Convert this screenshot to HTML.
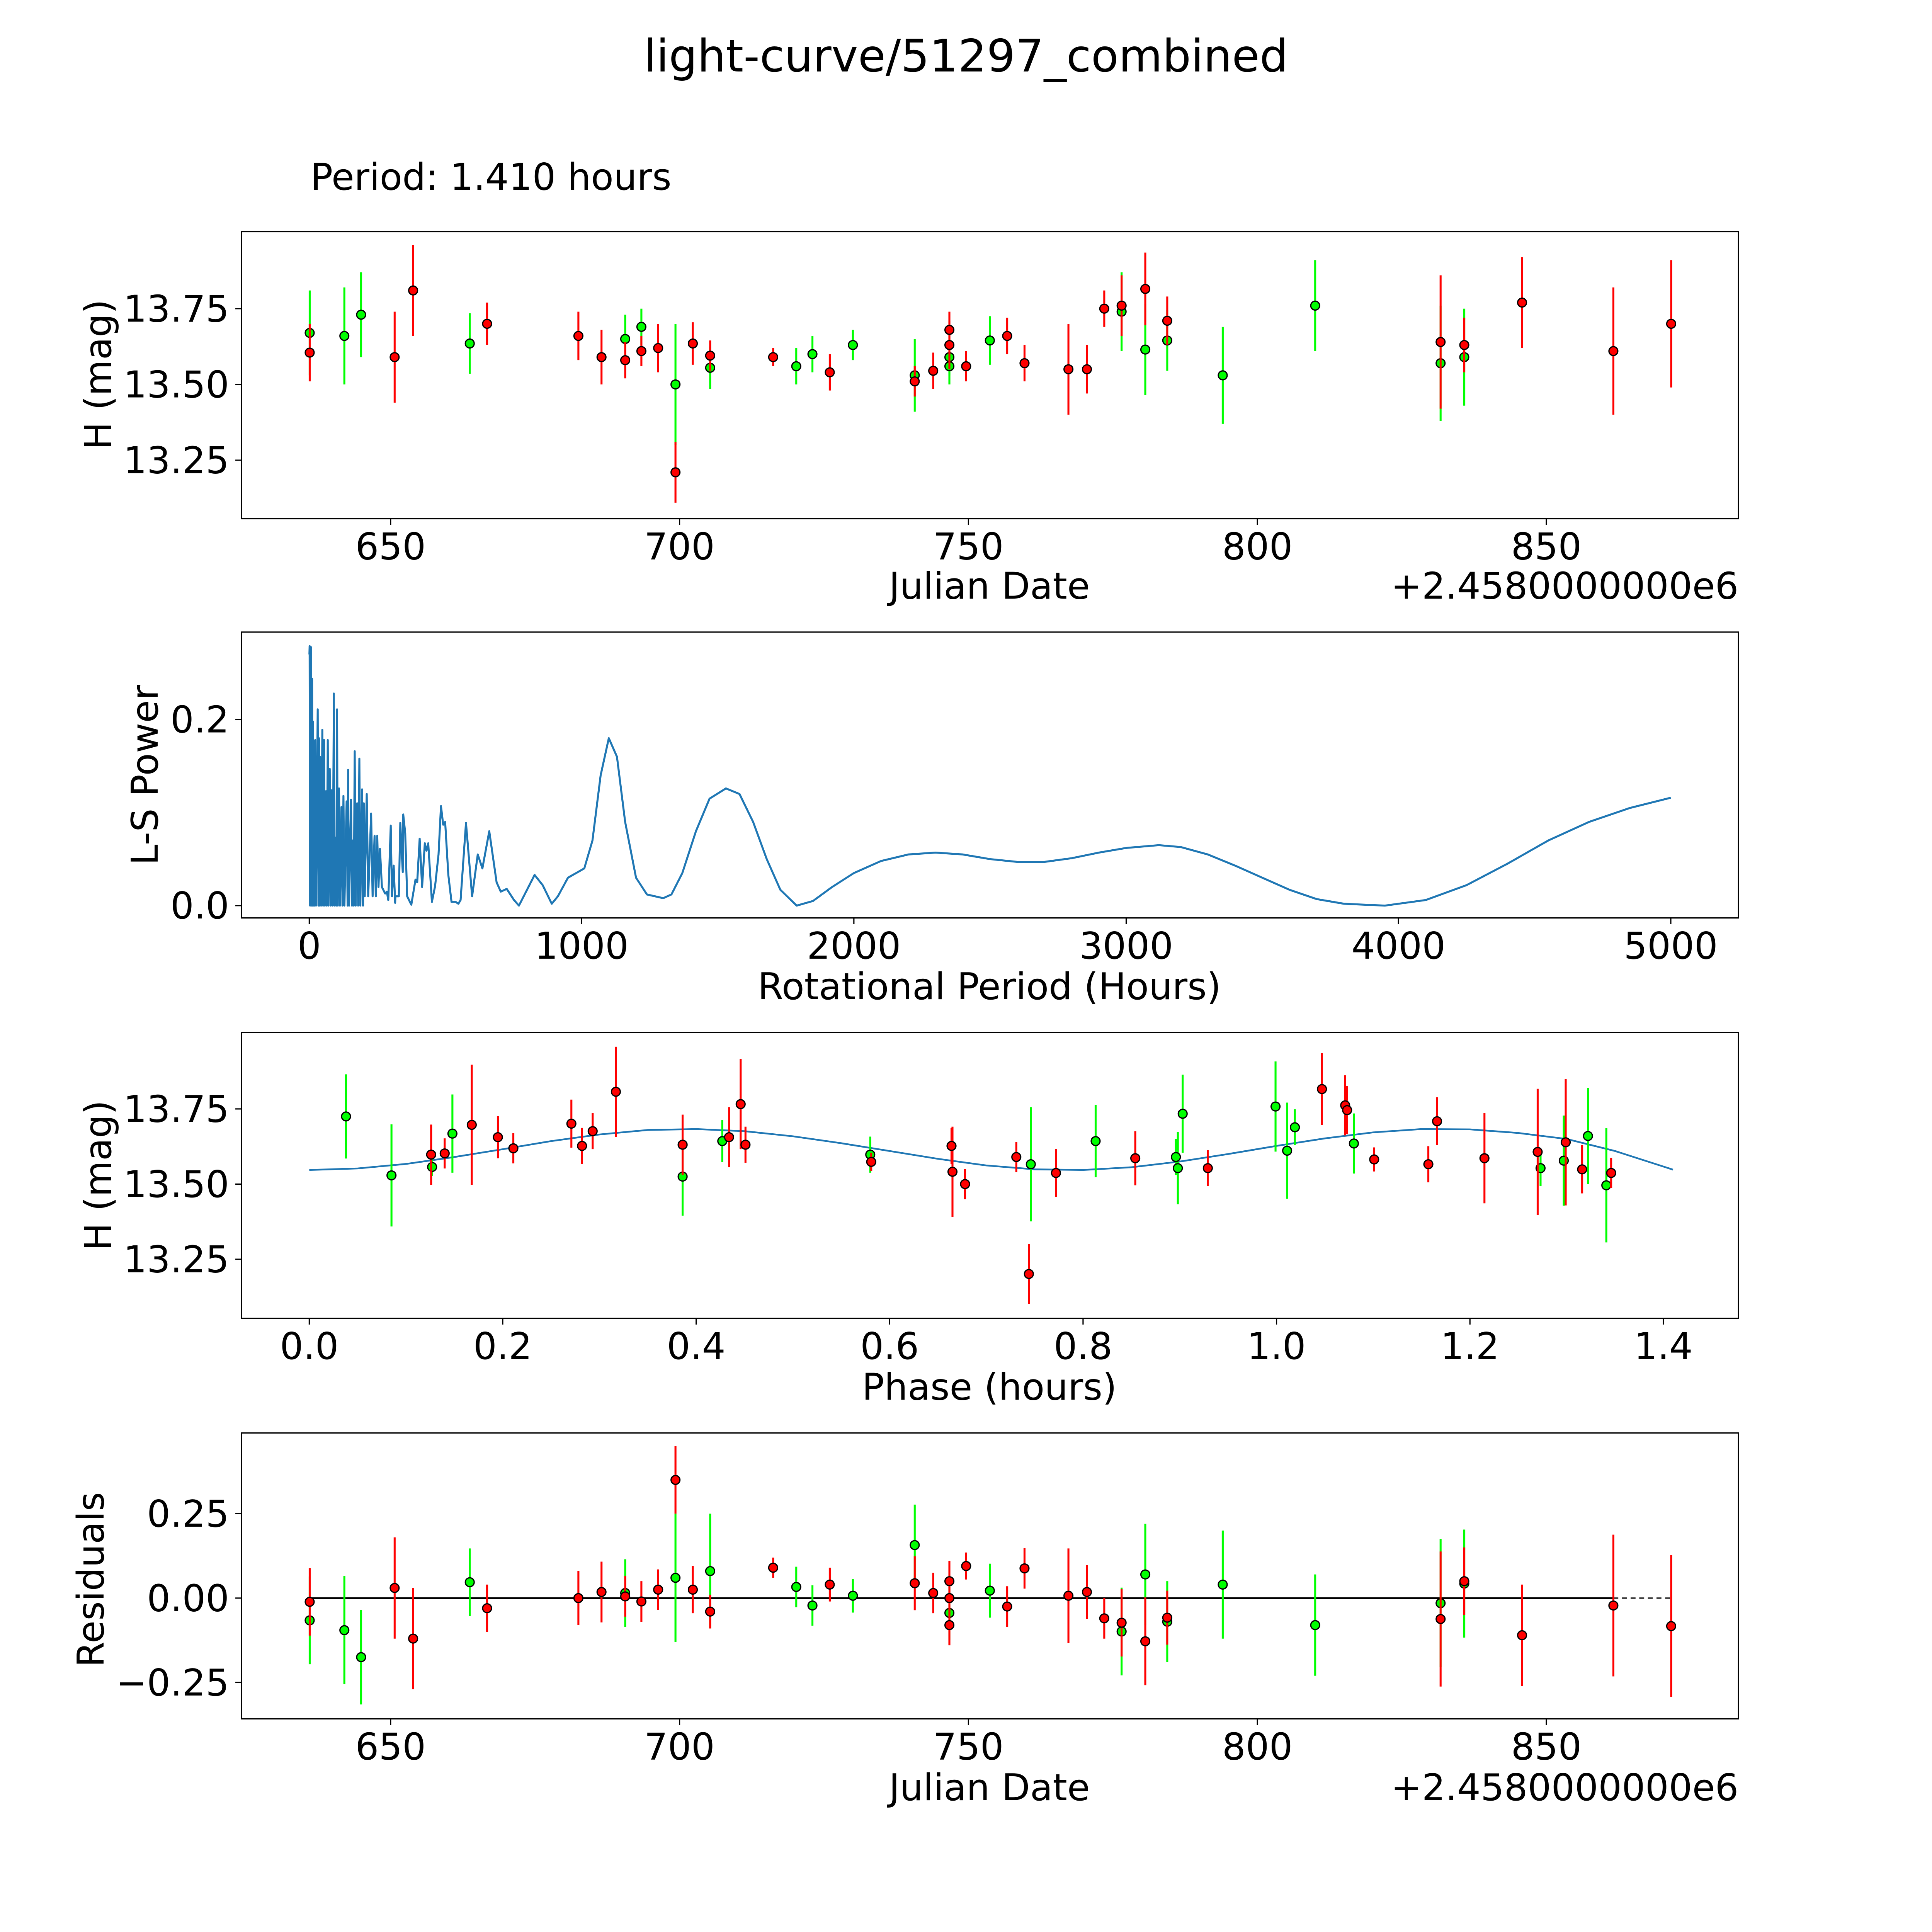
<!DOCTYPE html>
<html><head><meta charset="utf-8"><style>
html,body{margin:0;padding:0;background:#fff;overflow:hidden}
svg{display:block;position:absolute;left:0;top:0;width:100vw;height:100vw}
text{font-family:"DejaVu Sans","Liberation Sans",sans-serif;fill:#000}
</style></head><body>
<svg id="fig" xmlns="http://www.w3.org/2000/svg" viewBox="0 0 1568 1568" preserveAspectRatio="xMinYMin meet">
<rect width="1568" height="1568" fill="#fff"/>
<text x="784" y="58" font-size="36.5" text-anchor="middle">light-curve/51297_combined</text>
<text x="252" y="154" font-size="30">Period: 1.410 hours</text>
</svg>
<script>
// ---- Panel 1: light curve (JD-2458000, mag, err) ----
const lcRedJD=[636,650.7,653.9,666.7,682.5,686.5,690.6,693.4,696.3,699.3,702.3,705.3,716.2,726,740.7,743.9,746.7,746.7,749.6,756.7,759.7,767.3,770.5,773.5,776.5,780.6,784.4,831.7,835.8,845.8,861.6,871.6];
const lcRedMag=[13.605,13.59,13.81,13.70,13.66,13.59,13.58,13.61,13.62,13.21,13.635,13.595,13.59,13.54,13.51,13.545,13.68,13.63,13.56,13.66,13.57,13.55,13.55,13.75,13.76,13.815,13.71,13.64,13.63,13.77,13.61,13.70];
const lcRedErr=[0.095,0.15,0.15,0.07,0.08,0.09,0.06,0.05,0.08,0.1,0.07,0.05,0.03,0.06,0.05,0.06,0.06,0.08,0.05,0.06,0.06,0.15,0.08,0.06,0.1,0.12,0.08,0.22,0.09,0.15,0.21,0.21];
const lcGrnJD=[636,642,644.9,663.7,690.6,693.4,699.3,705.3,720.2,723,730,740.7,746.7,746.7,753.7,776.5,780.6,784.4,794,810,831.7,835.8];
const lcGrnMag=[13.67,13.66,13.73,13.635,13.65,13.69,13.50,13.555,13.56,13.60,13.63,13.53,13.59,13.56,13.645,13.74,13.615,13.645,13.53,13.76,13.57,13.59];
const lcGrnErr=[0.14,0.16,0.14,0.1,0.08,0.06,0.2,0.07,0.06,0.06,0.05,0.12,0.06,0.06,0.08,0.13,0.15,0.1,0.16,0.15,0.19,0.16];
const jdTicks=[650,700,750,800,850];
const magTicks=[13.25,13.5,13.75];
const magTickLabels=["13.25","13.50","13.75"];

// ---- Panel 2: periodogram ----
const lsPeriod=[
0.5,1.3,3.1,5.8,7.6,10.3,12.1,13,14.8,16.6,
19.3,22,24.7,31,33.7,35.5,38.2,40,43.6,48,
50.8,54.4,57.1,61.6,64.3,67.9,70.6,75.1,78.7,82.3,
85.9,90.4,93.1,96.7,99.4,102.1,104.8,109.3,112.9,118.3,
121.9,125.5,129.1,137.2,140.8,142.6,146.2,153.4,157,159.7,
163.3,166.9,170.5,175.9,179.5,184,187.6,193.9,197.5,200.2,
203.8,211,216.4,227.2,232.6,239.8,244.3,249.7,254.2,259.6,
266.8,278.5,284.8,290.2,299.2,303.7,310,315.4,316.3,320.8,
328.9,334.3,343.3,345.1,352.3,359.5,374.8,390.1,396.4,405.4,
414.4,424.3,430.6,436.9,450.4,462.1,474.7,483.7,491.8,499,
510.7,522.4,537.7,547.6,555.7,575.5,598,618.7,635.8,661,
688,703.3,725,752,770,827.5,857.2,890.5,913,950,
980,1010,1040,1070,1100,1130,1160,1200,1240,1300,
1330,1370,1420,1470,1530,1580,1630,1680,1730,1790,
1850,1920,2000,2100,2200,2300,2400,2500,2600,2700,
2800,2900,3000,3120,3200,3300,3400,3500,3600,3700,
3800,3950,4100,4250,4400,4550,4700,4850,5000];
const lsPower=[
0.27,0.279,0,0.278,0,0.244,0,0.198,0,0.177,
0,0.178,0,0.211,0,0.18,0,0.16,0,0.189,
0,0.178,0,0.123,0,0.178,0,0.147,0,0.124,
0,0.228,0,0.073,0,0.211,0,0.126,0,0.106,
0,0.118,0,0.112,0,0.146,0,0.114,0,0.07,
0,0.166,0,0.11,0,0.158,0,0.125,0,0.11,
0.01,0.12,0.01,0.099,0.01,0.075,0.01,0.075,0.02,0.061,
0.02,0.013,0.015,0.006,0.086,0.01,0.043,0.003,0.01,0.01,
0.01,0.089,0.036,0.098,0.078,0.01,0.001,0.028,0.025,0.072,
0.02,0.067,0.059,0.067,0.004,0.021,0.055,0.107,0.087,0.09,
0.033,0.004,0.004,0.002,0.006,0.089,0.01,0.055,0.04,0.08,
0.025,0.015,0.018,0.006,0.0,0.033,0.022,0.002,0.01,0.03,
0.035,0.04,0.07,0.14,0.18,0.16,0.09,0.03,0.012,0.008,
0.012,0.035,0.08,0.115,0.126,0.12,0.09,0.05,0.017,0.0,
0.005,0.02,0.035,0.048,0.055,0.057,0.055,0.05,0.047,0.047,
0.051,0.057,0.062,0.065,0.063,0.055,0.043,0.03,0.017,0.007,
0.002,0.0,0.006,0.022,0.045,0.07,0.09,0.105,0.116];
const lsXTicks=[0,1000,2000,3000,4000,5000];
const lsYTicks=[0,0.2];

// ---- Panel 3: phased ----
const phGrn=[0.038,0.085,0.127,0.148,0.386,0.427,0.580,0.746,0.813,0.896,0.898,0.903,0.999,1.011,1.019,1.080,1.273,1.297,1.322,1.341];
const phGrnMag=[13.725,13.529,13.557,13.668,13.525,13.643,13.598,13.566,13.643,13.590,13.553,13.734,13.758,13.611,13.689,13.635,13.553,13.578,13.660,13.496];
const phGrnErr=[0.14,0.17,0.03,0.13,0.13,0.07,0.06,0.19,0.12,0.06,0.12,0.13,0.15,0.16,0.06,0.1,0.06,0.15,0.16,0.19];
const phRed=[0.126,0.140,0.168,0.195,0.211,0.271,0.282,0.293,0.317,0.386,0.434,0.446,0.451,0.581,0.664,0.665,0.678,0.731,0.744,0.772,0.854,0.929,1.047,1.071,1.073,1.101,1.157,1.166,1.215,1.270,1.299,1.316,1.346];
const phRedMag=[13.598,13.602,13.697,13.656,13.619,13.701,13.627,13.676,13.807,13.631,13.656,13.766,13.631,13.574,13.627,13.541,13.500,13.590,13.201,13.537,13.586,13.553,13.816,13.762,13.746,13.582,13.566,13.709,13.586,13.607,13.639,13.549,13.537];
const phRedErr=[0.1,0.05,0.2,0.07,0.05,0.08,0.06,0.06,0.15,0.1,0.1,0.15,0.06,0.03,0.06,0.15,0.05,0.05,0.1,0.08,0.09,0.06,0.12,0.1,0.08,0.04,0.06,0.08,0.15,0.21,0.21,0.08,0.05];
const fitPhase=[0,0.05,0.1,0.15,0.2,0.25,0.3,0.35,0.4,0.45,0.5,0.55,0.6,0.65,0.7,0.75,0.8,0.85,0.9,0.95,1.0,1.05,1.1,1.15,1.2,1.25,1.3,1.35,1.41];
const fitMag=[13.547,13.552,13.567,13.590,13.616,13.643,13.665,13.680,13.683,13.676,13.659,13.636,13.610,13.584,13.562,13.549,13.547,13.556,13.575,13.600,13.627,13.652,13.672,13.683,13.682,13.670,13.650,13.610,13.548];
const phTicks=[0,0.2,0.4,0.6,0.8,1.0,1.2,1.4];

// ---- Panel 4: residuals ----
const resRedJD=[636,650.7,653.9,666.7,682.5,686.5,690.6,693.4,696.3,699.3,702.3,705.3,716.2,726,740.7,743.9,746.7,746.7,746.7,749.6,756.7,759.7,767.3,770.5,773.5,776.5,780.6,784.4,831.7,835.8,845.8,861.6,871.6];
const resRed=[-0.011,0.03,-0.12,-0.03,0.0,0.018,0.005,-0.01,0.025,0.35,0.025,-0.04,0.09,0.04,0.044,0.015,0.05,0.0,-0.08,0.095,-0.025,0.088,0.007,0.018,-0.06,-0.073,-0.128,-0.058,-0.062,0.05,-0.11,-0.022,-0.083];
const resRedErr=[0.1,0.15,0.15,0.07,0.08,0.09,0.06,0.06,0.06,0.1,0.07,0.05,0.03,0.05,0.08,0.06,0.06,0.05,0.06,0.04,0.06,0.06,0.14,0.08,0.06,0.1,0.13,0.08,0.2,0.1,0.15,0.21,0.21];
const resGrnJD=[636,642,644.9,663.7,690.6,699.3,705.3,720.2,723,730,740.7,746.7,753.7,776.5,780.6,784.4,794,810,831.7,835.8];
const resGrn=[-0.066,-0.095,-0.175,0.047,0.015,0.06,0.08,0.033,-0.022,0.007,0.157,-0.044,0.022,-0.099,0.07,-0.07,0.04,-0.08,-0.015,0.043];
const resGrnErr=[0.13,0.16,0.14,0.1,0.1,0.19,0.17,0.06,0.06,0.05,0.12,0.08,0.08,0.13,0.15,0.12,0.16,0.15,0.19,0.16];
const resTicks=[-0.25,0,0.25];
const resTickLabels=["\u22120.25","0.00","0.25"];

const NS="http://www.w3.org/2000/svg";
const svg=document.getElementById('fig');
const TICK=30, LAB=30;
function mk(tag,attrs,parent){const e=document.createElementNS(NS,tag);for(const k in attrs)e.setAttribute(k,attrs[k]);(parent||svg).appendChild(e);return e;}
function lin(d0,d1,p0,p1){return v=>p0+(v-d0)*(p1-p0)/(d1-d0);}

function frame(name){
  const g=mk('g',{});
  
  
  return g;
}
function border(g,x0,y0,x1,y1){
  const r=mk('rect',{x:x0,y:y0,width:x1-x0,height:y1-y0,fill:'none',stroke:'#000','stroke-width':1},g);
  
  
}
function xTicks(g,vals,labels,sx,yb){
  vals.forEach((v,i)=>{
    const x=sx(v);
    mk('line',{x1:x,y1:yb,x2:x,y2:yb+5,stroke:'#000','stroke-width':1},g);
    const t=mk('text',{x:x,y:yb+33,'font-size':TICK,'text-anchor':'middle'},g);
    
    
    t.textContent=labels[i];
  });
}
function yTicks(g,vals,labels,sy,xl){
  vals.forEach((v,i)=>{
    const y=sy(v);
    mk('line',{x1:xl-5,y1:y,x2:xl,y2:y,stroke:'#000','stroke-width':1},g);
    const t=mk('text',{x:xl-10,y:y+10.5,'font-size':TICK,'text-anchor':'end'},g);
    
    
    t.textContent=labels[i];
  });
}
function label(g,txt,x,y,rot,name){
  const t=mk('text',{x:x,y:y,'font-size':LAB,'text-anchor':'middle'},g);
  if(rot)t.setAttribute('transform','rotate(-90 '+x+' '+y+')');
  
  
  t.textContent=txt;
}
function points(g,xs,ys,es,sx,sy,color,name){
  xs.forEach((v,i)=>{
    const x=sx(v);
    const l=mk('line',{x1:x,y1:sy(ys[i]-es[i]),x2:x,y2:sy(ys[i]+es[i]),stroke:color,'stroke-width':1.6},g);
    
    
  });
  xs.forEach((v,i)=>{
    const c=mk('circle',{cx:sx(v),cy:sy(ys[i]),r:3.6,fill:color,stroke:'#000','stroke-width':1},g);
    
    
  });
}
const jdLabels=jdTicks.map(String);

// Panel 1
{
  const X0=196,X1=1411,Y0=188,Y1=421;
  const g=frame('light-curve-panel');
  const sx=lin(650,850,317,1255), sy=lin(13.5,13.75,312,250.5);
  border(g,X0,Y0,X1,Y1);
  xTicks(g,jdTicks,jdLabels,sx,Y1);
  yTicks(g,magTicks,magTickLabels,sy,X0);
  points(g,lcGrnJD,lcGrnMag,lcGrnErr,sx,sy,'#00ff00','green');
  points(g,lcRedJD,lcRedMag,lcRedErr,sx,sy,'#ff0000','red');
  label(g,'Julian Date',803,486,false,'x-axis-title');
  const o=mk('text',{x:X1,y:486,'font-size':LAB,'text-anchor':'end'},g);
  
  
  o.textContent='+2.4580000000e6';
  label(g,'H (mag)',90,304,true,'y-axis-title');
}
// Panel 2
{
  const X0=196,X1=1411,Y0=513,Y1=745;
  const g=frame('periodogram-panel');
  const sx=lin(0,5000,251,1356), sy=lin(0,0.2,735,584);
  border(g,X0,Y0,X1,Y1);
  xTicks(g,lsXTicks,lsXTicks.map(String),sx,Y1);
  yTicks(g,lsYTicks,['0.0','0.2'],sy,X0);
  const n=Math.min(lsPeriod.length,lsPower.length);
  const arr=[];
  for(let i=0;i<n;i++)arr.push(sx(lsPeriod[i]).toFixed(2)+','+sy(lsPower[i]).toFixed(2));
  const pl=mk('polyline',{points:arr.join(' '),fill:'none',stroke:'#1f77b4','stroke-width':1.6,'stroke-linejoin':'round'},g);
  
  
  label(g,'Rotational Period (Hours)',803,811,false,'x-axis-title');
  label(g,'L-S Power',128,629,true,'y-axis-title');
}
// Panel 3
{
  const X0=196,X1=1411,Y0=838,Y1=1070;
  const g=frame('phased-panel');
  const sx=lin(0,1.4,251,1350), sy=lin(13.5,13.75,961,900);
  border(g,X0,Y0,X1,Y1);
  xTicks(g,phTicks,phTicks.map(v=>v.toFixed(1)),sx,Y1);
  yTicks(g,magTicks,magTickLabels,sy,X0);
  const pts=fitPhase.map((p,i)=>sx(p).toFixed(2)+','+sy(fitMag[i]).toFixed(2)).join(' ');
  const pl=mk('polyline',{points:pts,fill:'none',stroke:'#1f77b4','stroke-width':1.4},g);
  
  
  points(g,phGrn,phGrnMag,phGrnErr,sx,sy,'#00ff00','green');
  points(g,phRed,phRedMag,phRedErr,sx,sy,'#ff0000','red');
  label(g,'Phase (hours)',803,1136,false,'x-axis-title');
  label(g,'H (mag)',90,954,true,'y-axis-title');
}
// Panel 4
{
  const X0=196,X1=1411,Y0=1163,Y1=1395;
  const g=frame('residuals-panel');
  const sx=lin(650,850,317,1255), sy=lin(0,0.25,1297,1228.5);
  border(g,X0,Y0,X1,Y1);
  xTicks(g,jdTicks,jdLabels,sx,Y1);
  yTicks(g,resTicks,resTickLabels,sy,X0);
  const z1=mk('line',{x1:sx(636),y1:sy(0),x2:sx(861.6),y2:sy(0),stroke:'#000','stroke-width':1.4},g);
  
  
  const z2=mk('line',{x1:sx(861.6),y1:sy(0),x2:sx(871.6),y2:sy(0),stroke:'#000','stroke-width':1,'stroke-dasharray':'4,3'},g);
  
  
  points(g,resGrnJD,resGrn,resGrnErr,sx,sy,'#00ff00','green');
  points(g,resRedJD,resRed,resRedErr,sx,sy,'#ff0000','red');
  label(g,'Julian Date',803,1461,false,'x-axis-title');
  const o=mk('text',{x:X1,y:1461,'font-size':LAB,'text-anchor':'end'},g);
  
  
  o.textContent='+2.4580000000e6';
  label(g,'Residuals',84,1282,true,'y-axis-title');
}
</script>
</body></html>
